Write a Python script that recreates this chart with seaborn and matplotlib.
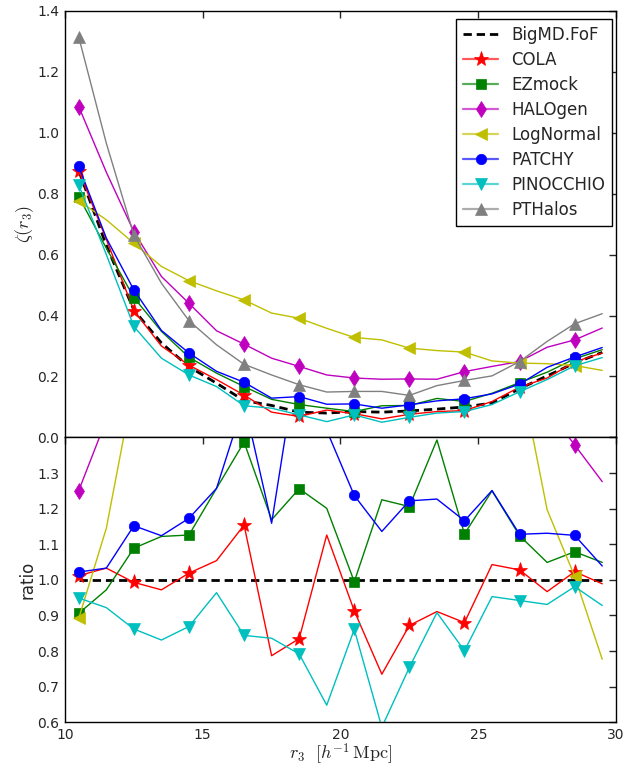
import numpy as np
import pandas as pd
import matplotlib
matplotlib.use("Agg")
import matplotlib.pyplot as plt
import seaborn as sns
from matplotlib.colors import to_rgba

# ==========================================
# DATA
# ==========================================

r3 = [10.5, 11.5, 12.5, 13.5, 14.5, 15.5, 16.5, 17.5, 18.5, 19.5,
      20.5, 21.5, 22.5, 23.5, 24.5, 25.5, 26.5, 27.5, 28.5, 29.5]

names = ["BigMD.FoF", "COLA", "EZmock", "HALOgen", "LogNormal",
         "PATCHY", "PINOCCHIO", "PTHalos"]

# zeta(r3), top panel
zeta_bigmd = [0.875, 0.630, 0.418, 0.310, 0.232, 0.178, 0.121, 0.105, 0.083, 0.080,
              0.085, 0.083, 0.087, 0.093, 0.100, 0.113, 0.160, 0.202, 0.244, 0.279]
zeta_cola = [0.875, 0.650, 0.416, 0.300, 0.237, 0.190, 0.139, 0.083, 0.069, 0.090,
             0.078, 0.061, 0.076, 0.085, 0.088, 0.118, 0.165, 0.195, 0.248, 0.277]
zeta_ezmock = [0.790, 0.621, 0.459, 0.348, 0.263, 0.211, 0.167, 0.125, 0.108, 0.096,
               0.085, 0.104, 0.105, 0.128, 0.118, 0.145, 0.180, 0.214, 0.258, 0.288]
zeta_halogen = [1.085, 0.870, 0.675, 0.528, 0.440, 0.350, 0.306, 0.260, 0.233, 0.205,
                0.195, 0.191, 0.192, 0.191, 0.216, 0.233, 0.249, 0.296, 0.320, 0.359]
zeta_lognormal = [0.776, 0.714, 0.637, 0.561, 0.514, 0.481, 0.451, 0.408, 0.391, 0.358,
                  0.328, 0.320, 0.293, 0.285, 0.280, 0.251, 0.244, 0.242, 0.236, 0.220]
zeta_patchy = [0.889, 0.654, 0.484, 0.351, 0.277, 0.217, 0.181, 0.129, 0.134, 0.109,
               0.110, 0.096, 0.107, 0.120, 0.127, 0.143, 0.175, 0.230, 0.264, 0.295]
zeta_pinocchio = [0.828, 0.600, 0.364, 0.260, 0.205, 0.167, 0.104, 0.096, 0.074, 0.052,
                  0.074, 0.050, 0.066, 0.080, 0.085, 0.108, 0.150, 0.190, 0.235, 0.262]
zeta_pthalos = [1.313, 0.965, 0.664, 0.506, 0.383, 0.304, 0.240, 0.205, 0.173, 0.149,
                0.151, 0.151, 0.138, 0.170, 0.187, 0.202, 0.249, 0.315, 0.373, 0.406]

# ratio to BigMD, bottom panel
ratio_bigmd = [1.0, 1.0, 1.0, 1.0, 1.0, 1.0, 1.0, 1.0, 1.0, 1.0,
               1.0, 1.0, 1.0, 1.0, 1.0, 1.0, 1.0, 1.0, 1.0, 1.0]
ratio_cola = [1.012, 1.033, 0.993, 0.972, 1.019, 1.054, 1.154, 0.787, 0.835, 1.126,
              0.913, 0.735, 0.872, 0.911, 0.880, 1.043, 1.028, 0.967, 1.023, 0.989]
ratio_ezmock = [0.906, 0.972, 1.089, 1.122, 1.126, 1.257, 1.387, 1.169, 1.256, 1.201,
                0.995, 1.225, 1.206, 1.393, 1.129, 1.250, 1.124, 1.049, 1.079, 1.049]
ratio_halogen = [1.251, 1.45, 1.61, 1.70, 1.90, 1.95, 2.50, 2.50, 2.80, 2.60,
                 2.30, 2.30, 2.20, 2.05, 2.15, 2.05, 1.56, 1.48, 1.379, 1.276]
ratio_lognormal = [0.892, 1.145, 1.55, 1.81, 2.20, 2.70, 3.70, 3.90, 4.80, 4.50,
                   3.90, 3.90, 3.40, 3.10, 2.80, 2.20, 1.59, 1.197, 1.010, 0.777]
ratio_patchy = [1.022, 1.033, 1.152, 1.124, 1.173, 1.257, 1.50, 1.159, 1.65, 1.42,
                1.237, 1.136, 1.222, 1.227, 1.166, 1.251, 1.128, 1.131, 1.125, 1.039]
ratio_pinocchio = [0.949, 0.922, 0.862, 0.831, 0.869, 0.964, 0.844, 0.836, 0.792, 0.648,
                   0.861, 0.586, 0.754, 0.908, 0.801, 0.953, 0.942, 0.931, 0.981, 0.928]
ratio_pthalos = [1.50, 1.53, 1.59, 1.63, 1.65, 1.70, 1.98, 1.95, 2.10, 1.86,
                 1.78, 1.82, 1.59, 1.83, 1.87, 1.79, 1.56, 1.56, 1.53, 1.46]

zeta_all = [zeta_bigmd, zeta_cola, zeta_ezmock, zeta_halogen, zeta_lognormal,
            zeta_patchy, zeta_pinocchio, zeta_pthalos]
ratio_all = [ratio_bigmd, ratio_cola, ratio_ezmock, ratio_halogen, ratio_lognormal,
             ratio_patchy, ratio_pinocchio, ratio_pthalos]

# ==========================================
# STYLE
# ==========================================

colors = ["k", "r", "g", "m", (0.75, 0.75, 0.0), "b", (0.0, 0.75, 0.75), (0.5, 0.5, 0.5)]
markers = [None, "*", "s", "d", "<", "o", "v", "^"]
msizes = [0, 11, 7, 8, 9, 7.5, 8.5, 8.5]

sns.set_style("white")
plt.rcParams["font.family"] = ["DejaVu Sans"]
plt.rcParams["mathtext.fontset"] = "cm"
plt.rcParams["lines.scale_dashes"] = False

fig = plt.figure(figsize=(6.41, 7.71), dpi=100)
ax1 = fig.add_axes([0.1014, 0.4326, 0.8596, 0.5536])
ax2 = fig.add_axes([0.1014, 0.0632, 0.8596, 0.3694])


def draw(ax, series, with_labels):
    for i, vals in enumerate(series):
        kw = dict(x=r3, y=vals, ax=ax, color=colors[i], lw=1.0, legend=False)
        if with_labels:
            kw["label"] = names[i]
        if markers[i] is None:
            sns.lineplot(**kw, linestyle="--", dashes=False)
            ax.lines[-1].set_dashes((6, 3.5))
            ax.lines[-1].set_linewidth(2.0)
        else:
            sns.lineplot(**kw, marker=markers[i], markevery=2, ms=msizes[i],
                         mec=colors[i], mew=0.5)


draw(ax1, zeta_all, True)
draw(ax2, ratio_all, False)

# ==========================================
# AXES
# ==========================================

for ax in (ax1, ax2):
    ax.set_xlim(10, 30)
    ax.set_xticks([10, 15, 20, 25, 30])
    ax.tick_params(direction="in", top=True, right=True, length=5, width=1,
                   labelsize=10, pad=4)
    for sp in ax.spines.values():
        sp.set_color("black")
        sp.set_linewidth(1.0)

ax1.set_ylim(0, 1.4)
ax1.set_yticks(np.arange(0, 1.41, 0.2))
ax1.set_yticklabels(["%.1f" % v for v in np.arange(0, 1.41, 0.2)])
ax1.set_xticklabels([])

ax2.set_ylim(0.6, 1.4)
ax2.set_yticks(np.arange(0.6, 1.41, 0.1))
ax2.set_yticklabels(["%.1f" % v for v in np.arange(0.6, 1.31, 0.1)] + [""])

ax1.set_ylabel(r"$\zeta(r_3)$", fontsize=13)
ax2.set_ylabel("ratio", fontsize=12)
ax2.set_xlabel(r"$r_3\ \ [h^{-1}\,\mathrm{Mpc}]$", fontsize=13, labelpad=0)
ax1.yaxis.set_label_coords(-0.052, 0.5)
ax2.yaxis.set_label_coords(-0.052, 0.5)

# legend
leg = ax1.legend(loc="upper right", bbox_to_anchor=(0.9927, 0.980), borderaxespad=0,
                 fontsize=12, numpoints=1, handlelength=2.1, handletextpad=0.8,
                 labelspacing=0.42, borderpad=0.4, fancybox=False, framealpha=1,
                 edgecolor="black")
leg.get_frame().set_linewidth(1.0)
for i, h in enumerate(leg.legend_handles):
    if markers[i] is None:
        h.set_linewidth(2.0)
        continue
    h.set_color(to_rgba(colors[i], 0.65))
    h.set_linewidth(1.6)
    h.set_markerfacecolor(colors[i])
    h.set_markeredgecolor(colors[i])

fig.savefig("out.png", dpi=100, facecolor="white")
